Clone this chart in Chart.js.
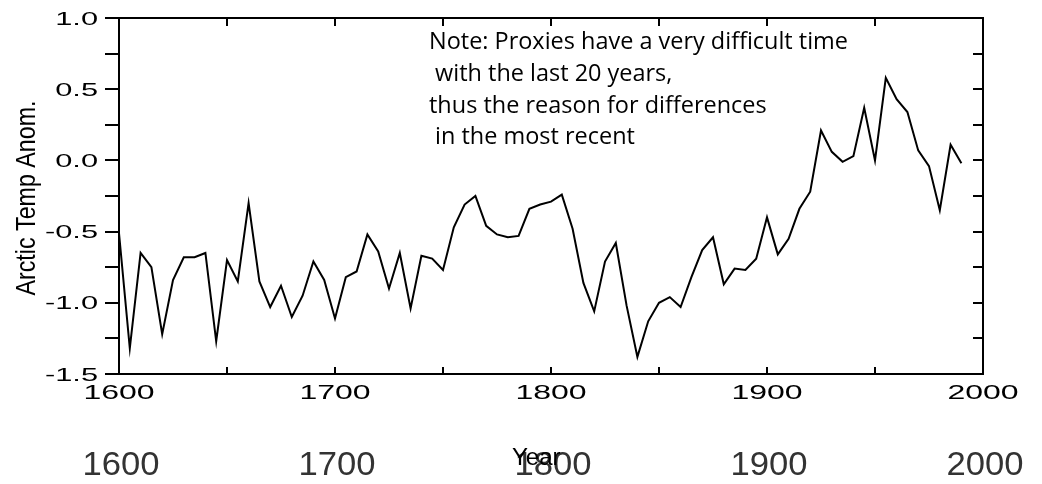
<!DOCTYPE html>
<html>
<head>
<meta charset="utf-8">
<script src="https://cdn.jsdelivr.net/npm/chart.js@4.4.1/dist/chart.umd.min.js"></script>
<style>
  html, body { margin: 0; padding: 0; background: #fff; }
  #wrap { width: 1042px; height: 484px; position: relative; }
</style>
</head>
<body>
<div id="wrap"><canvas id="arctic"></canvas></div>
<script>
// reconstructed proxy series, 5-year steps
const years = [
  1600, 1605, 1610, 1615, 1620, 1625, 1630, 1635, 1640, 1645,
  1650, 1655, 1660, 1665, 1670, 1675, 1680, 1685, 1690, 1695,
  1700, 1705, 1710, 1715, 1720, 1725, 1730, 1735, 1740, 1745,
  1750, 1755, 1760, 1765, 1770, 1775, 1780, 1785, 1790, 1795,
  1800, 1805, 1810, 1815, 1820, 1825, 1830, 1835, 1840, 1845,
  1850, 1855, 1860, 1865, 1870, 1875, 1880, 1885, 1890, 1895,
  1900, 1905, 1910, 1915, 1920, 1925, 1930, 1935, 1940, 1945,
  1950, 1955, 1960, 1965, 1970, 1975, 1980, 1985, 1990
];
const anomaly = [
  -0.51, -1.32, -0.65, -0.75, -1.22, -0.84, -0.68, -0.68, -0.65, -1.27,
  -0.70, -0.85, -0.30, -0.85, -1.03, -0.88, -1.10, -0.95, -0.71, -0.84,
  -1.11, -0.82, -0.78, -0.52, -0.64, -0.90, -0.65, -1.04, -0.67, -0.69,
  -0.77, -0.47, -0.31, -0.25, -0.46, -0.52, -0.54, -0.53, -0.34, -0.31,
  -0.29, -0.24, -0.48, -0.86, -1.06, -0.71, -0.58, -1.02, -1.38, -1.13,
  -1.00, -0.96, -1.03, -0.82, -0.63, -0.54, -0.87, -0.76, -0.77, -0.69,
  -0.40, -0.66, -0.55, -0.34, -0.22, 0.21, 0.06, -0.01, 0.03, 0.37,
  0.00, 0.58, 0.43, 0.34, 0.07, -0.04, -0.35, 0.11, -0.02
];
const yTickValues = [1.0, 0.5, 0.0, -0.5, -1.0, -1.5];
const yTickLabels = ['1.0', '0.5', '0.0', '-0.5', '-1.0', '-1.5'];
const xTickValues = [1600, 1700, 1800, 1900, 2000];
const xTickLabels = ['1600', '1700', '1800', '1900', '2000'];
const yTitle = 'Arctic Temp Anom.';
const xTitle = 'Year';
const noteLines = [
  'Note: Proxies have a very difficult time',
  ' with the last 20 years,',
  'thus the reason for differences',
  ' in the most recent'
];

// helper: draw text squeezed/stretched horizontally
function drawScaled(ctx, str, x, y, sx, align) {
  ctx.save();
  ctx.translate(x, y);
  ctx.scale(sx, 1);
  ctx.textAlign = align;
  ctx.fillText(str, 0, 0);
  ctx.restore();
}

const framePlugin = {
  id: 'frame',
  afterDraw(chart) {
    const { ctx, chartArea: a, scales: { x, y } } = chart;
    ctx.save();
    ctx.strokeStyle = '#000';
    ctx.lineWidth = 2;
    ctx.lineCap = 'butt';
    ctx.strokeRect(a.left, a.top, a.right - a.left, a.bottom - a.top);

    ctx.beginPath();
    y.ticks.forEach(t => {
      const py = Math.round(y.getPixelForValue(t.value));
      ctx.moveTo(a.left - 14, py); ctx.lineTo(a.left, py);   // outward on the left
      ctx.moveTo(a.right - 10, py); ctx.lineTo(a.right, py); // inward on the right
    });
    x.ticks.forEach(t => {
      const px = Math.round(x.getPixelForValue(t.value));
      ctx.moveTo(px, a.top); ctx.lineTo(px, a.top + 8);
      ctx.moveTo(px, a.bottom); ctx.lineTo(px, a.bottom - 7);
    });
    ctx.stroke();

    ctx.fillStyle = '#000';
    ctx.textBaseline = 'alphabetic';

    // y tick labels, wide face
    ctx.font = '19px "Liberation Sans", Arial, sans-serif';
    yTickValues.forEach((v, i) => {
      drawScaled(ctx, yTickLabels[i], 98, y.getPixelForValue(v) + 6.5, 1.62, 'right');
    });

    // x tick labels, wide face
    ctx.font = '20px "Liberation Sans", Arial, sans-serif';
    xTickValues.forEach((v, i) => {
      drawScaled(ctx, xTickLabels[i], x.getPixelForValue(v), 398.5, 1.6, 'center');
    });

    // second row of year labels (grey, larger)
    ctx.fillStyle = '#333';
    ctx.font = '33px "Liberation Sans", Arial, sans-serif';
    xTickValues.forEach((v, i) => {
      drawScaled(ctx, xTickLabels[i], x.getPixelForValue(v) + 2, 475, 1.05, 'center');
    });

    // axis titles
    ctx.fillStyle = '#000';
    ctx.font = '24px "Liberation Sans", Arial, sans-serif';
    ctx.textAlign = 'left';
    ctx.fillText(xTitle, 512, 465);

    ctx.save();
    ctx.translate(35, 198);
    ctx.rotate(-Math.PI / 2);
    ctx.font = '28px "Liberation Sans", Arial, sans-serif';
    drawScaled(ctx, yTitle, 0, 0, 0.83, 'center');
    ctx.restore();

    // note text
    ctx.font = '24px "Open Sans", sans-serif';
    const sx = 419 / ctx.measureText(noteLines[0]).width;
    noteLines.forEach((line, i) => {
      drawScaled(ctx, line, 429, 49.3 + i * 31.6, sx, 'left');
    });

    ctx.restore();
  }
};

new Chart(document.getElementById('arctic'), {
  type: 'line',
  data: {
    datasets: [{
      data: years.map((yr, i) => ({ x: yr, y: anomaly[i] })),
      borderColor: '#000',
      borderWidth: 2,
      pointRadius: 0,
      tension: 0,
      fill: false
    }]
  },
  options: {
    responsive: true,
    maintainAspectRatio: false,
    animation: false,
    layout: { padding: { top: 18, right: 59, left: 0, bottom: 0 } },
    plugins: {
      legend: { display: false },
      tooltip: { enabled: false }
    },
    scales: {
      x: {
        type: 'linear',
        min: 1600,
        max: 2000,
        ticks: { stepSize: 50, display: false },
        grid: { display: false },
        border: { display: false },
        afterFit(s) { s.height = 110; }
      },
      y: {
        min: -1.5,
        max: 1.0,
        ticks: { stepSize: 0.25, display: false },
        grid: { display: false },
        border: { display: false },
        afterFit(s) { s.width = 119; }
      }
    }
  },
  plugins: [framePlugin]
});
</script>
</body>
</html>
